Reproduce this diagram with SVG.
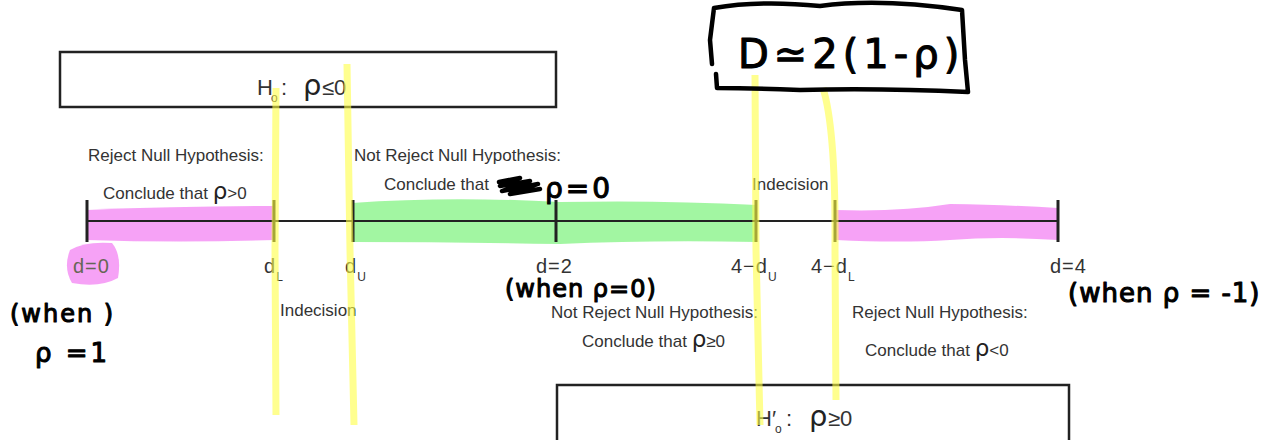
<svg xmlns="http://www.w3.org/2000/svg" width="1262" height="440" viewBox="0 0 1262 440">
<style>
  .lbl{font-family:"Liberation Sans",Arial,sans-serif;font-size:17px;fill:#333}
  .ax{font-family:"Liberation Sans",Arial,sans-serif;font-size:20px;letter-spacing:1px;fill:#333}
  .hyp{font-family:"Liberation Sans",Arial,sans-serif;font-size:22px;fill:#333}
  .rho{font-family:"DejaVu Sans","Liberation Sans",sans-serif;font-size:23px;fill:#222}
  .sub{font-size:12px}
  .hand{font-family:"DejaVu Sans",sans-serif;fill:#000;stroke:#000;stroke-width:1.1;stroke-linejoin:round}
  .box{fill:#fff;stroke:#222;stroke-width:2.5}
  .tick{stroke:#222;stroke-width:3}
  .mag{fill:#ee55ee;opacity:0.55}
  .grn{fill:#55ee55;opacity:0.55}
  .yel{stroke:#ffff44;stroke-width:7;fill:none;opacity:0.6}
  .pen{fill:none;stroke:#000;stroke-width:4.5;stroke-linecap:round;stroke-linejoin:round}
</style>

<g id="highlights">
  <path class="mag" d="M87 210 Q180 206 275 206 L275 240 Q180 243 87 240 Z"/>
  <path class="mag" d="M70 250 Q85 241 112 243 Q122 255 118 278 Q100 288 72 283 Q63 268 70 250 Z"/>
  <path class="grn" d="M352 203 Q450 196 560 202 Q660 200 757 205 L757 242 Q650 240 560 244 Q450 242 352 242 Z"/>
  <path class="mag" d="M836 210 Q900 212 950 204 Q1010 205 1058 208 L1058 240 Q1000 236 950 240 Q900 243 836 240 Z"/>
</g>

<g id="box-h0">
  <rect class="box" x="60" y="52" width="496" height="55"/>
  <text class="hyp" y="95"><tspan x="257">H</tspan><tspan class="sub" x="271" y="102">o</tspan><tspan x="281" y="95">:</tspan><tspan class="rho" x="303" style="font-size:29px">ρ</tspan><tspan x="322">≤0</tspan></text>
</g>

<g id="box-h0prime">
  <rect class="box" x="557" y="385" width="512" height="60"/>
  <text class="hyp" y="426"><tspan x="756">H′</tspan><tspan class="sub" x="775" y="433">o</tspan><tspan x="786" y="426">:</tspan><tspan class="rho" x="809" style="font-size:29px">ρ</tspan><tspan x="828">≥0</tspan></text>
</g>

<g id="axis">
  <line x1="87" y1="221" x2="1058" y2="221" stroke="#222" stroke-width="2"/>
  <line class="tick" x1="87" y1="200" x2="87" y2="242"/>
  <line class="tick" x1="274" y1="200" x2="274" y2="242"/>
  <line class="tick" x1="353" y1="200" x2="353" y2="242"/>
  <line class="tick" x1="556" y1="200" x2="556" y2="242"/>
  <line class="tick" x1="756" y1="200" x2="756" y2="242"/>
  <line class="tick" x1="835" y1="200" x2="835" y2="242"/>
  <line class="tick" x1="1058" y1="200" x2="1058" y2="242"/>
</g>

<g id="axis-labels">
  <text class="ax" x="73" y="273" style="fill:#665">d=0</text>
  <text class="ax" x="264" y="273">d<tspan class="sub" dy="8">L</tspan></text>
  <text class="ax" x="345" y="273">d<tspan class="sub" dy="8">U</tspan></text>
  <text class="ax" x="536" y="273">d=2</text>
  <text class="ax" x="731" y="273">4−d<tspan class="sub" dy="8">U</tspan></text>
  <text class="ax" x="811" y="273">4−d<tspan class="sub" dy="8">L</tspan></text>
  <text class="ax" x="1050" y="273">d=4</text>
</g>

<g id="region-labels">
  <text class="lbl" x="88" y="161">Reject Null Hypothesis:</text>
  <text class="lbl" x="103" y="199">Conclude that <tspan class="rho">ρ</tspan>&gt;0</text>
  <text class="lbl" x="354" y="161">Not Reject Null Hypothesis:</text>
  <text class="lbl" x="384" y="190">Conclude that</text>
  <text class="lbl" x="752" y="190">Indecision</text>
  <text class="lbl" x="280" y="316">Indecision</text>
  <text class="lbl" x="551" y="318">Not Reject Null Hypothesis:</text>
  <text class="lbl" x="582" y="347">Conclude that <tspan class="rho">ρ</tspan>≥0</text>
  <text class="lbl" x="852" y="318">Reject Null Hypothesis:</text>
  <text class="lbl" x="865" y="356">Conclude that <tspan class="rho">ρ</tspan>&lt;0</text>
</g>

<g id="yellow-marks">
  <path class="yel" d="M276 88 L275 250 L276 415"/>
  <path class="yel" d="M347 64 L350 250 L354 425"/>
  <path class="yel" d="M755 75 L756 250 L760 425"/>
  <path class="yel" d="M823 88 Q836 130 835 250 L836 400"/>
</g>

<g id="annotation-formula">
  <path class="pen" d="M714 8 Q760 0 820 6 Q880 -2 962 10 L965 60 L968 92 Q880 88 800 90 Q750 88 717 88 L716 74 M712 64 L710 40 L714 8"/>
  <text class="hand" x="738" y="68" style="font-size:40px;letter-spacing:5px">D≃2(1-ρ)</text>
</g>

<g id="annotation-rho0">
  <path class="pen" d="M499 182 L520 178 L500 186 L530 181 L502 191 L538 184 L510 194 L540 189"/>
  <text class="hand" x="545" y="198" style="font-size:28px;letter-spacing:3px">ρ=0</text>
</g>

<g id="annotation-when">
  <text class="hand" x="505" y="297" style="font-size:24px;letter-spacing:1px">(when ρ=0)</text>
  <text class="hand" x="10" y="322" style="font-size:24px;letter-spacing:2px">(when  )</text>
  <text class="hand" x="35" y="362" style="font-size:26px;letter-spacing:3px">ρ =1</text>
  <text class="hand" x="1068" y="302" style="font-size:26px;letter-spacing:1px">(when ρ = -1)</text>
</g>
</svg>
